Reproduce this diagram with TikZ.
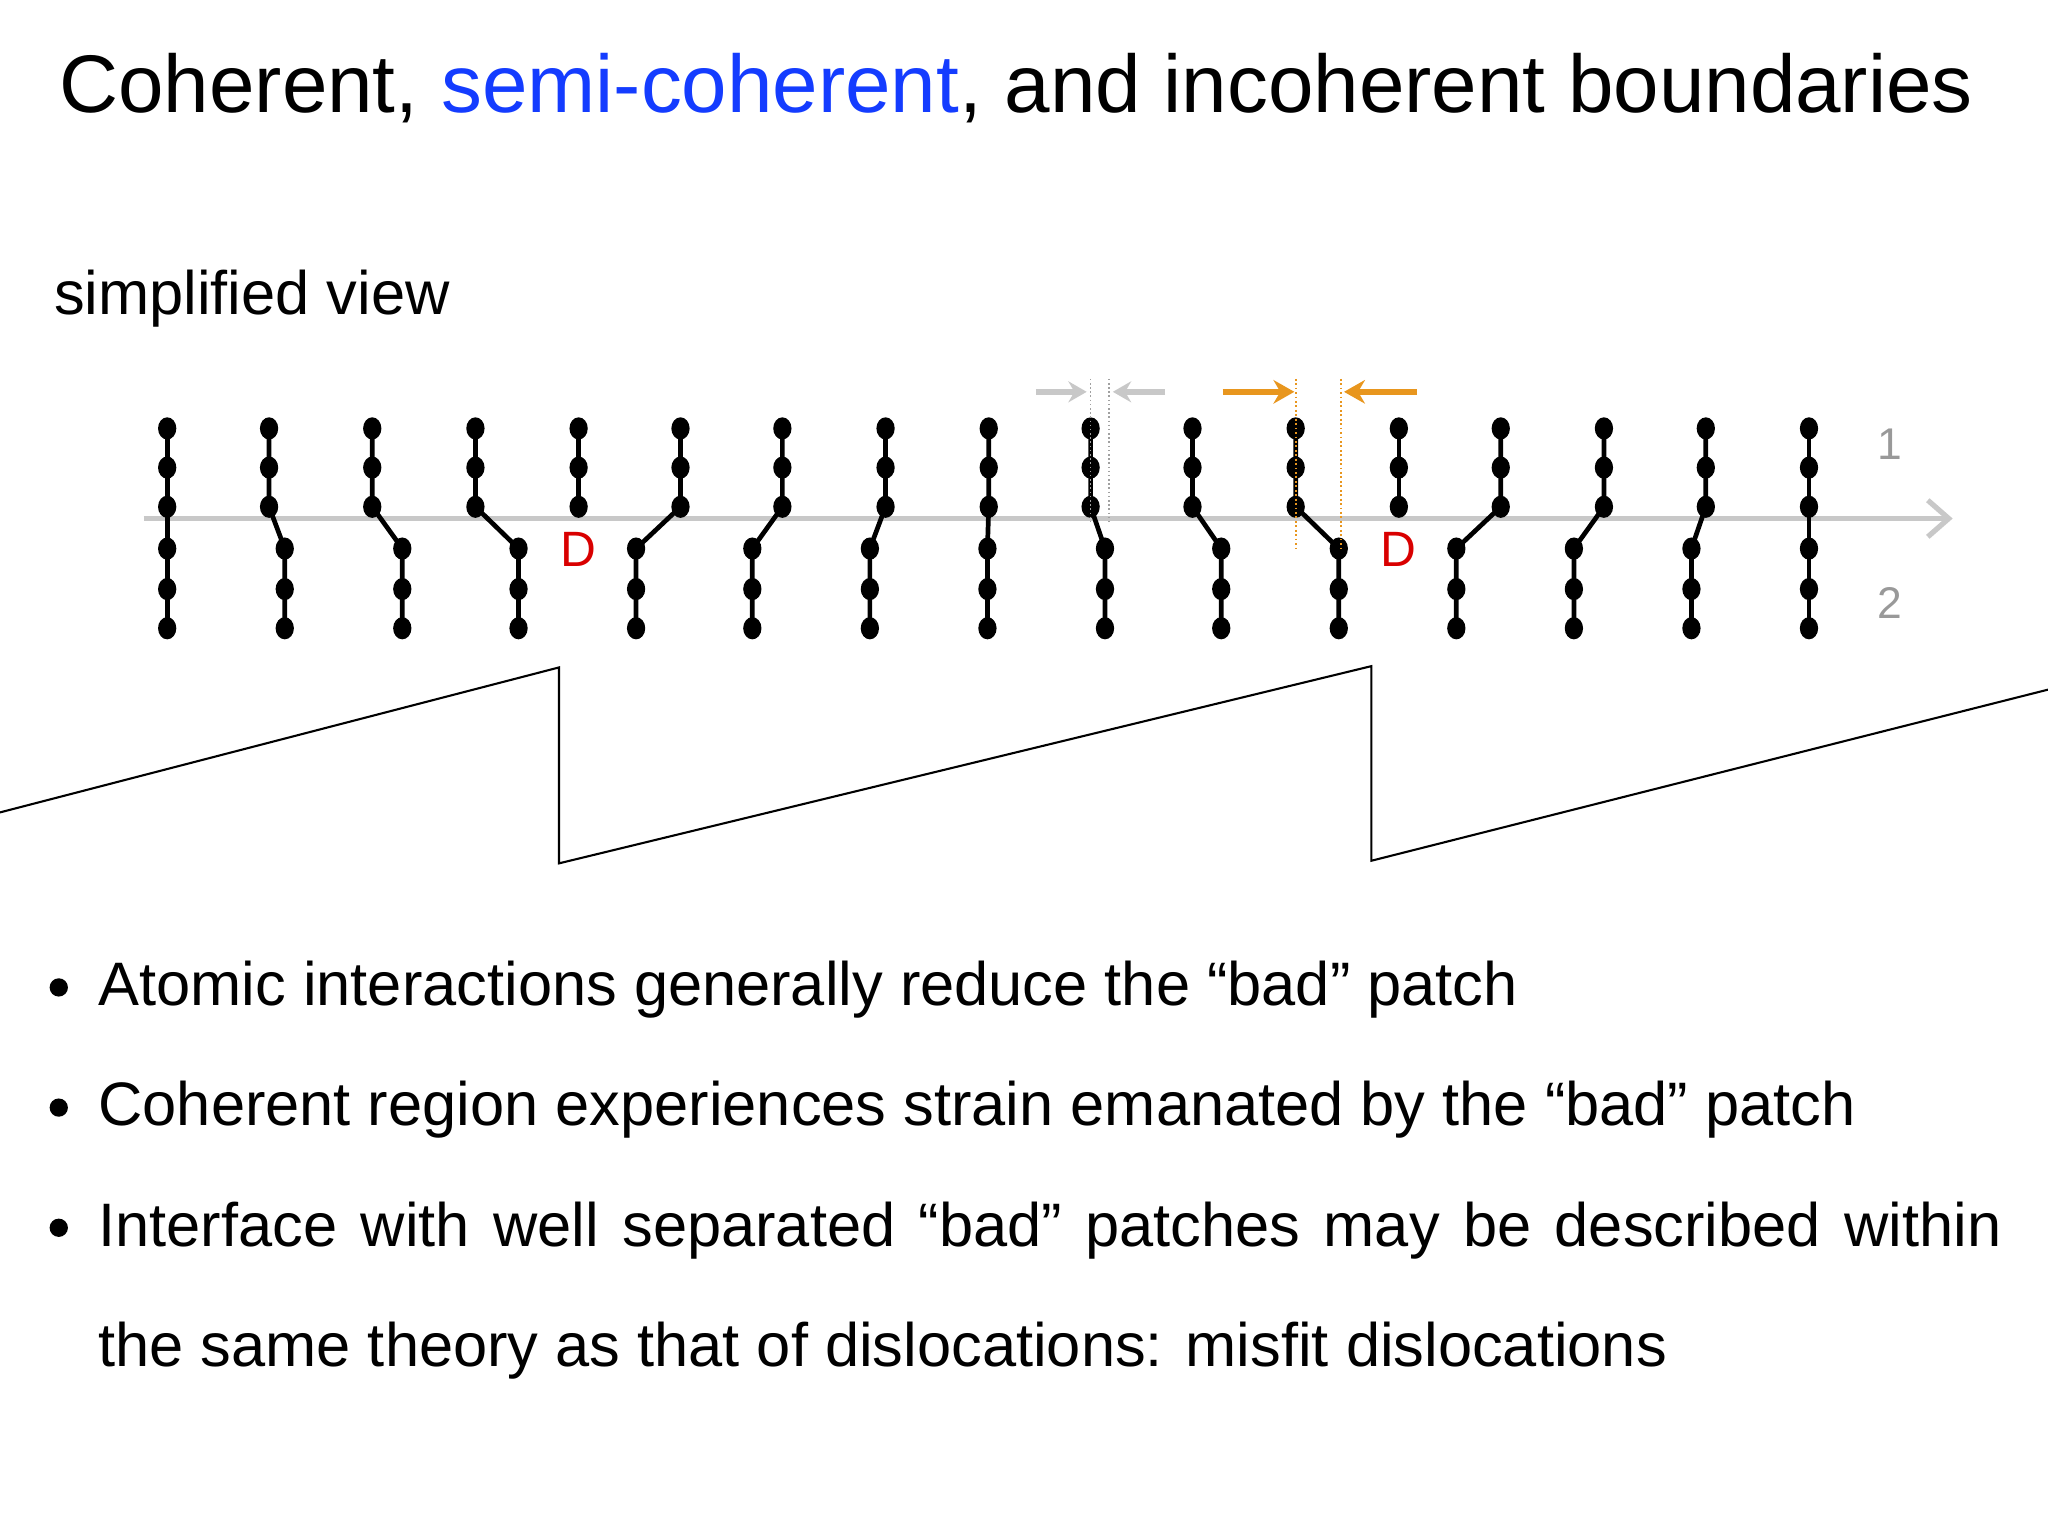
\documentclass[tikz,border=0pt]{standalone}
\usepackage{fontspec}
\setmainfont{Liberation Sans}
\usetikzlibrary{arrows.meta}
\definecolor{semiblue}{RGB}{20,60,255}
\definecolor{lgray}{RGB}{200,200,200}
\definecolor{orng}{RGB}{232,150,30}
\begin{document}
\begin{tikzpicture}[x=0.5pt,y=-0.5pt,
  bond/.style={line width=1.8pt,black},
  lab/.style={font=\fontsize{17}{20}\selectfont,text=black!40},
  txt/.style={font=\fontsize{23.5}{27}\selectfont,anchor=base west,inner sep=0},
  saw/.style={line width=0.8pt,black}]
\useasboundingbox (0,0) rectangle (1568,1176);
\node[anchor=base,inner sep=0,font=\fontsize{31.3}{36}\selectfont] (title) at (778,86) {Coherent, \textcolor{semiblue}{semi-coherent}, and incoherent boundaries};
\node[txt] (sv) at (41,241) {simplified view};
% axis
\draw[lgray,line width=2pt,-{Straight Barb[length=8pt,width=14pt]}] (110,397) coordinate (ax0) -- (1495,397) coordinate (ax1);
\def\pairs{128/128,206/218,285/308,364/397,521/487,599/576,678/666,757/756,835/846,913/935,992/1025,1149/1115,1228/1205,1306/1295,1385/1385}
\foreach \x in {443,1071}{
  \draw[bond] (\x,328) -- (\x,388);
  \foreach \y in {328,358,388} \fill (\x,\y) ellipse (7 and 8.5);
}
\foreach \a/\b in \pairs{
  \draw[bond] (\a,328) -- (\a,388) -- (\b,420) -- (\b,481);
  \foreach \y in {328,358,388} \fill (\a,\y) ellipse (7 and 8.5);
  \foreach \y in {420,451,481} \fill (\b,\y) ellipse (7 and 8.5);
}
\node[text=red!85!black,font=\fontsize{19}{22}\selectfont] (d1) at (443,421) {D};
\node[text=red!85!black,font=\fontsize{19}{22}\selectfont] (d2) at (1071,421) {D};
\node[lab] (l1) at (1447,340) {1};
\node[lab] (l2) at (1447,462) {2};
% gray markers
\draw[lgray!80!black,densely dotted,line width=0.6pt] (835,290) -- (835,400) (849,290) -- (849,400);
\draw[lgray,line width=2.5pt,-{Stealth[length=7pt,width=8pt]}] (793,300) -- (832,300);
\draw[lgray,line width=2.5pt,-{Stealth[length=7pt,width=8pt]}] (892,300) -- (852,300);
% orange markers
\draw[orng,densely dotted,line width=0.7pt] (992,290) -- (992,420) (1027,290) -- (1027,420);
\draw[orng,line width=2.5pt,-{Stealth[length=8pt,width=9pt]}] (936,300) -- (991,300);
\draw[orng,line width=2.5pt,-{Stealth[length=8pt,width=9pt]}] (1085,300) -- (1029,300);
% sawtooth
\draw[saw] (0,622) -- (428,511) -- (428,661) -- (1050,510) -- (1050,659) -- (1568,528);
% bullets
\foreach \y in {756,848,940} \fill (45,\y) circle (7);
\node[txt] (b1) at (75,770) {Atomic interactions generally reduce the “bad” patch};
\node[txt] (b2) at (75,862) {Coherent region experiences strain emanated by the “bad” patch};
\node[txt] (b3) at (75,954) {\makebox[1457\dimexpr0.5pt\relax][s]{Interface with well separated “bad” patches may be described within}};
\node[txt] (b4) at (75,1046) {the same theory as that of dislocations: misfit dislocations};
\end{tikzpicture}
\end{document}
